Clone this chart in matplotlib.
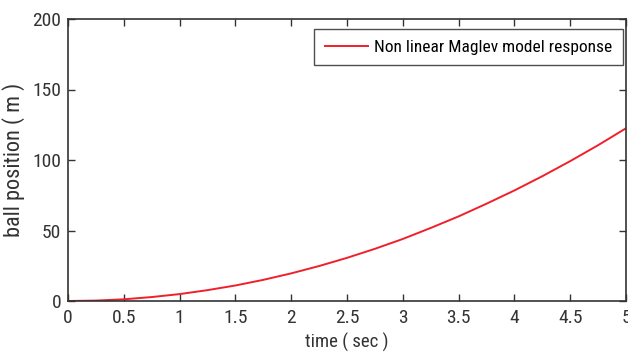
import matplotlib
matplotlib.use("Agg")
import matplotlib.pyplot as plt

plt.rcParams['font.family'] = ['Roboto Condensed', 'DejaVu Sans']

time_s = [0, 0.25, 0.5, 0.75, 1, 1.25, 1.5, 1.75, 2, 2.25, 2.5, 2.75, 3,
          3.25, 3.5, 3.75, 4, 4.25, 4.5, 4.75, 5]
position_m = [0, 0.3, 1.2, 2.8, 4.9, 7.7, 11, 15, 19.6, 24.8, 30.6, 37, 44,
              51.8, 60, 69, 78.4, 88.5, 99.2, 110.5, 122.5]
xticks = [0, 0.5, 1, 1.5, 2, 2.5, 3, 3.5, 4, 4.5, 5]
xticklabels = ["0", "0.5", "1", "1.5", "2", "2.5", "3", "3.5", "4", "4.5", "5"]
yticks = [0, 50, 100, 150, 200]

fig = plt.figure(figsize=(6.28, 3.55), dpi=100)
ax = fig.add_axes([68/628, 54/355, 558/628, 282/355])
ax.plot(time_s, position_m, color="#f0202a", lw=1.4,
        label="Non linear Maglev model response")
ax.set_xlim(0, 5)
ax.set_ylim(0, 200)
ax.set_xticks(xticks)
ax.set_xticklabels(xticklabels)
ax.set_yticks(yticks)
ax.tick_params(direction="in", top=True, right=True, length=5, width=1,
               labelsize=14, colors="#333333")
ax.tick_params(axis="x", pad=6)
ax.tick_params(axis="y", pad=5)
for s in ax.spines.values():
    s.set_linewidth(1.2)
    s.set_color("#333333")
ax.set_xlabel("time ( sec )", fontsize=13.5, labelpad=4, color="#333333")
ax.set_ylabel("ball position ( m )", fontsize=16, labelpad=5, color="#333333")
leg = ax.legend(loc="upper right", bbox_to_anchor=(0.9946, 0.9645),
                fontsize=12.5, frameon=True, fancybox=False,
                edgecolor="#222222", borderaxespad=0.0, handlelength=2.5,
                borderpad=0.6, handletextpad=0.35)
leg.get_frame().set_linewidth(1.0)
fig.savefig("out.png", dpi=100)
